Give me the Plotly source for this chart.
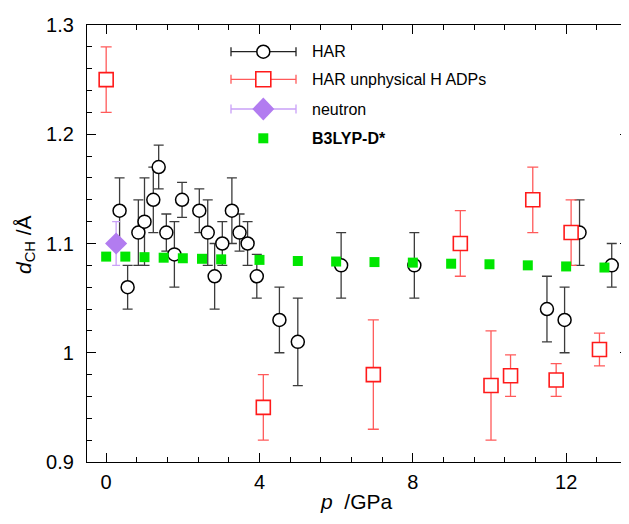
import plotly.graph_objects as go

# ---- data ----
har_p = [0.35, 0.56, 0.84, 1.0, 1.23, 1.37, 1.57, 1.78, 1.98, 2.43, 2.65, 2.83, 3.03, 3.28, 3.48,
         3.69, 3.93, 4.52, 5.0, 6.13, 8.04, 11.5, 11.96, 12.35, 13.19]
har_d = [1.13, 1.06, 1.11, 1.12, 1.14, 1.17, 1.11, 1.09, 1.14, 1.13, 1.11, 1.07, 1.10, 1.13, 1.11,
         1.10, 1.07, 1.03, 1.01, 1.08, 1.08, 1.04, 1.03, 1.11, 1.08]
har_err = [0.03, 0.02, 0.03, 0.04, 0.03, 0.02, 0.017, 0.03, 0.016, 0.02, 0.03, 0.03, 0.02, 0.03, 0.017,
           0.02, 0.02, 0.03, 0.04, 0.03, 0.03, 0.03, 0.03, 0.03, 0.02]

unphys_p = [0.0, 4.1, 6.97, 9.24, 10.04, 10.55, 11.13, 11.74, 12.13, 12.87]
unphys_d = [1.25, 0.95, 0.98, 1.10, 0.97, 0.979, 1.14, 0.975, 1.11, 1.003]
unphys_err = [0.03, 0.03, 0.05, 0.03, 0.05, 0.019, 0.03, 0.015, 0.03, 0.015]

neutron_p = [0.26]
neutron_d = [1.10]
neutron_err = [0.02]

b3lyp_p = [0, 0.5, 1, 1.5, 2, 2.5, 3, 4, 5, 6, 7, 8, 9, 10, 11, 12, 13]
b3lyp_d = [1.088, 1.088, 1.0875, 1.087, 1.0865, 1.086, 1.0855, 1.085, 1.084, 1.0835, 1.083,
           1.0825, 1.0815, 1.081, 1.080, 1.079, 1.078]

legend_labels = ["HAR", "HAR unphysical H ADPs", "neutron", "<b>B3LYP-D*</b>"]

x_ticks = [0, 4, 8, 12]
y_ticks = [0.9, 1.0, 1.1, 1.2, 1.3]
y_ticktext = ["0.9", "1", "1.1", "1.2", "1.3"]

# ---- layout geometry (page pixels; the page body adds an 8 px margin) ----
OFF = 8
W, H = 629 - OFF, 524 - OFF
PLOT_L, PLOT_R, PLOT_T, PLOT_B = 87, 629, 25, 462      # page coords of plot area
L, T = PLOT_L - OFF, PLOT_T - OFF
R = 0
B = H - (PLOT_B - OFF)
PW, PH = PLOT_R - PLOT_L, PLOT_B - PLOT_T
FONT = "Liberation Sans, Arial, sans-serif"

def px2x(px):
    return (px - PLOT_L) / PW

def py2y(py):
    return (PLOT_B - py) / PH

BLACK_ERR = "#3c3c3c"
RED = "#ff1a1a"
RED_ERR = "#ff5a5a"
PURPLE = "#b27cf0"
PURPLE_ERR = "#c9a0f7"
GREEN = "#00e600"

fig = go.Figure()

fig.add_trace(go.Scatter(
    x=har_p, y=har_d, mode="markers", name="HAR",
    marker=dict(symbol="circle", size=13, color="white", line=dict(color="black", width=1.5)),
    error_y=dict(type="data", array=har_err, color=BLACK_ERR, thickness=1.3, width=5),
    showlegend=False))

fig.add_trace(go.Scatter(
    x=unphys_p, y=unphys_d, mode="markers", name="HAR unphysical H ADPs",
    marker=dict(symbol="square", size=14, color="white", line=dict(color=RED, width=1.6)),
    error_y=dict(type="data", array=unphys_err, color=RED_ERR, thickness=1.3, width=5.5),
    showlegend=False))

fig.add_trace(go.Scatter(
    x=neutron_p, y=neutron_d, mode="markers", name="neutron",
    marker=dict(symbol="diamond", size=17, color=PURPLE, line=dict(width=0)),
    error_y=dict(type="data", array=neutron_err, color=PURPLE_ERR, thickness=1.3, width=4),
    showlegend=False))

fig.add_trace(go.Scatter(
    x=b3lyp_p, y=b3lyp_d, mode="markers", name="B3LYP-D*",
    marker=dict(symbol="square", size=10, color=GREEN, line=dict(width=0)),
    showlegend=False))

# ---- custom legend (error-bar style glyphs) ----
rows_py = [51.7, 79.3, 109.0, 138.3]
cap_l, cap_r, mk_x, txt_x = 231, 296, 263.3, 310
line_cols = ["#222222", RED_ERR, PURPLE_ERR, None]
shapes = []
annotations = []
for i, (py, lc) in enumerate(zip(rows_py, line_cols)):
    yp = py2y(py)
    if lc:
        shapes.append(dict(type="line", xref="paper", yref="paper", x0=px2x(cap_l), x1=px2x(cap_r),
                           y0=yp, y1=yp, line=dict(color=lc, width=1.3)))
        for cx in (cap_l, cap_r):
            shapes.append(dict(type="line", xref="paper", yref="paper", x0=px2x(cx), x1=px2x(cx),
                               ysizemode="pixel", yanchor=yp, y0=-4.5, y1=4.5,
                               line=dict(color=lc, width=1.3)))
    common = dict(xref="paper", yref="paper", xsizemode="pixel", ysizemode="pixel",
                  xanchor=px2x(mk_x), yanchor=yp)
    if i == 0:
        shapes.append(dict(type="circle", x0=-6.5, x1=6.5, y0=-6.5, y1=6.5,
                           fillcolor="white", line=dict(color="black", width=1.5), **common))
    elif i == 1:
        shapes.append(dict(type="rect", x0=-7.5, x1=7.5, y0=-7.5, y1=7.5,
                           fillcolor="white", line=dict(color=RED, width=1.6), **common))
    elif i == 2:
        shapes.append(dict(type="path", path="M -11 0 L 0 11.5 L 11 0 L 0 -11.5 Z",
                           fillcolor=PURPLE, line=dict(width=0), **common))
    else:
        shapes.append(dict(type="rect", x0=-5, x1=5, y0=-5, y1=5,
                           fillcolor=GREEN, line=dict(width=0), **common))
    annotations.append(dict(text=legend_labels[i], xref="paper", yref="paper", x=px2x(txt_x), y=yp,
                            xanchor="left", yanchor="middle", showarrow=False,
                            font=dict(family=FONT, size=16, color="black")))

# axis titles
annotations.append(dict(text="<i>d</i><sub>CH</sub> /Å", xref="paper", yref="paper",
                        x=px2x(25), y=py2y(245), xanchor="center", yanchor="middle", textangle=-90,
                        showarrow=False, font=dict(family=FONT, size=21, color="black")))
annotations.append(dict(text="<i>p</i>  /GPa", xref="paper", yref="paper",
                        x=px2x(356), y=py2y(501), xanchor="center", yanchor="middle",
                        showarrow=False, font=dict(family=FONT, size=21, color="black")))

axis_common = dict(showline=True, linecolor="black", linewidth=1.3, mirror="allticks",
                   ticks="inside", tickcolor="black", tickwidth=1.2, ticklen=9,
                   showgrid=False, zeroline=False,
                   tickfont=dict(family=FONT, size=20, color="black"))

fig.update_layout(
    width=W, height=H,
    margin=dict(l=L, r=R, t=T, b=B, autoexpand=False),
    paper_bgcolor="white", plot_bgcolor="white",
    xaxis=dict(range=[-0.5, -0.5 + PW / 38.33], tickmode="array", tickvals=x_ticks,
               minor=dict(dtick=0.8, tick0=0, ticks="inside", ticklen=4.5, tickwidth=1.2,
                          tickcolor="black", showgrid=False),
               ticklabelstandoff=2, **axis_common),
    yaxis=dict(range=[0.9, 1.3], tickmode="array", tickvals=y_ticks, ticktext=y_ticktext,
               minor=dict(dtick=0.02, tick0=0.9, ticks="inside", ticklen=5, tickwidth=1.2,
                          tickcolor="black", showgrid=False),
               ticklabelstandoff=8, **axis_common),
    shapes=shapes, annotations=annotations,
    font=dict(family=FONT, color="black"),
)

fig.write_html("out.html")
